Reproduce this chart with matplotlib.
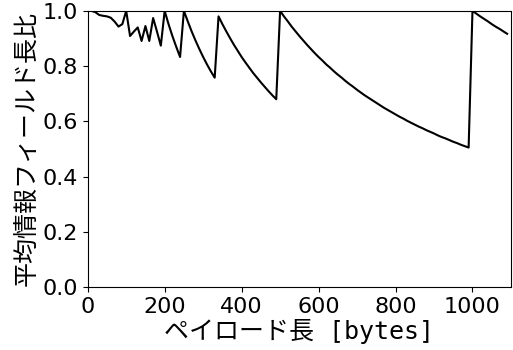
import matplotlib
matplotlib.use('Agg')
import matplotlib.pyplot as plt

# ------------------------
# Data
# ------------------------
payload = list(range(10, 1100, 10))  # payload length [bytes]

ratio = [
    1.000, 0.995, 0.985, 0.982, 0.980, 0.975, 0.961, 0.943, 0.952, 1.000,   # 10-100
    0.909, 0.925, 0.940, 0.891, 0.945, 0.891, 0.974, 0.925, 0.874, 1.000,   # 110-200
    0.952, 0.909, 0.870, 0.833, 1.000, 0.962, 0.926, 0.893, 0.862, 0.833,   # 210-300
    0.806, 0.781, 0.758, 0.980, 0.952, 0.926, 0.901, 0.877, 0.855, 0.833,   # 310-400
    0.813, 0.794, 0.775, 0.758, 0.741, 0.725, 0.709, 0.694, 0.680, 1.000,   # 410-500
    0.980, 0.962, 0.943, 0.926, 0.909, 0.893, 0.877, 0.862, 0.847, 0.833,   # 510-600
    0.820, 0.806, 0.794, 0.781, 0.769, 0.758, 0.746, 0.735, 0.725, 0.714,   # 610-700
    0.704, 0.694, 0.685, 0.676, 0.667, 0.658, 0.649, 0.641, 0.633, 0.625,   # 710-800
    0.617, 0.610, 0.602, 0.595, 0.588, 0.581, 0.575, 0.568, 0.562, 0.556,   # 810-900
    0.549, 0.543, 0.538, 0.532, 0.526, 0.521, 0.515, 0.510, 0.505, 1.000,   # 910-1000
    0.990, 0.980, 0.971, 0.962, 0.952, 0.943, 0.935, 0.926, 0.917,          # 1010-1090
]

xticks = [0, 200, 400, 600, 800, 1000]
yticks = [0.0, 0.2, 0.4, 0.6, 0.8, 1.0]

# ------------------------
# Plot
# ------------------------
label_font = ['DejaVu Sans Mono', 'Noto Sans CJK JP']

fig = plt.figure(figsize=(5.13, 3.5), dpi=100)
ax = fig.add_axes([0.171, 0.18, 0.825, 0.789])

ax.plot(payload, ratio, color='black', linewidth=1.5)

ax.set_xlim(0, 1100)
ax.set_ylim(0.0, 1.0)
ax.set_xticks(xticks)
ax.set_yticks(yticks)
ax.set_yticklabels([f'{v:.1f}' for v in yticks])
ax.tick_params(labelsize=16)

ax.set_xlabel('ペイロード長 [bytes]', fontsize=18, family=label_font, labelpad=2)
ax.set_ylabel('平均情報フィールド長比', fontsize=18, family=label_font, labelpad=2)

fig.savefig('out.png', dpi=100)
